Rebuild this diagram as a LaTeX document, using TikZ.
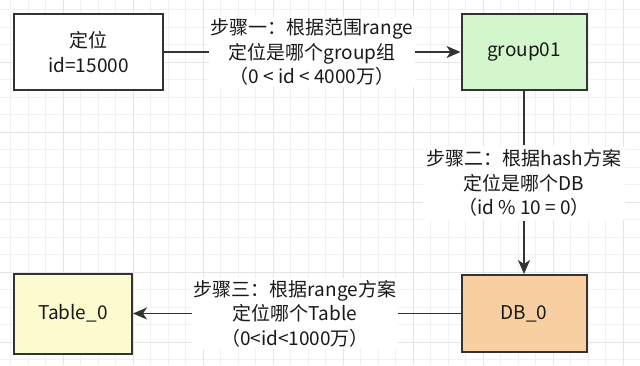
\documentclass[tikz,border=0pt]{standalone}
\usepackage{fontspec}
\setmainfont{Noto Sans CJK SC}
\usetikzlibrary{arrows.meta}
\definecolor{grpfill}{HTML}{D3F6CC}
\definecolor{dbfill}{HTML}{F8CFA0}
\definecolor{tblfill}{HTML}{FCFBCF}
\definecolor{gridminor}{HTML}{F1F1F1}
\definecolor{gridmajor}{HTML}{E4E4E4}
\definecolor{linegray}{HTML}{333333}

\begin{document}
\begin{tikzpicture}[x=1pt,y=-1pt,
  every node/.style={font=\fontsize{19}{24.5}\selectfont,text=black!90},
  box/.style={draw=linegray,line width=2pt,align=center,inner sep=0pt},
  lbl/.style={align=center,inner sep=2pt,fill=white},
  ln/.style={draw=linegray,line width=1.8pt},
  ar/.style={ln,-{Stealth[length=14pt,width=12pt,inset=4pt]}}]
\useasboundingbox[fill=white] (0,0) rectangle (640,365);
% background grid
\foreach \x in {10.8,28.3,...,640} \draw[gridminor,line width=0.8pt] (\x,0) -- (\x,365);
\foreach \y in {9.8,27.3,...,365} \draw[gridminor,line width=0.8pt] (0,\y) -- (640,\y);
\foreach \x in {63.3,133.3,...,640} \draw[gridmajor,line width=0.9pt] (\x,0) -- (\x,365);
\foreach \y in {62.3,132.3,...,365} \draw[gridmajor,line width=0.9pt] (0,\y) -- (640,\y);
% boxes
\node[box,fill=white,minimum width=149pt,minimum height=76pt] (loc) at (88.5,52) {定位\\id=15000};
\node[box,fill=grpfill,minimum width=125pt,minimum height=76pt] (grp) at (524,52) {group01};
\node[box,fill=dbfill,minimum width=125pt,minimum height=77pt] (db) at (524,313.5) {DB\_0};
\node[box,fill=tblfill,minimum width=118pt,minimum height=80pt] (tbl) at (73,313.5) {Table\_0};
% step labels
\node[lbl] (s1) at (312,52) {步骤一：根据范围range\\定位是哪个group组\\（0 < id < 4000万）};
\node[lbl,inner sep=4pt] (s2) at (524,183) {步骤二：根据hash方案\\定位是哪个DB\\（id \% 10 = 0）};
\node[lbl] (s3) at (295,313.5) {步骤三：根据range方案\\定位哪个Table\\（0<id<1000万）};
% connectors
\draw[ln] (loc) -- (s1);
\draw[ar] (s1) -- (grp);
\draw[ln] (grp) -- (s2);
\draw[ar] (s2) -- (db);
\draw[ln] (db) -- (s3);
\draw[ar] (s3) -- (tbl);
\end{tikzpicture}
\end{document}
